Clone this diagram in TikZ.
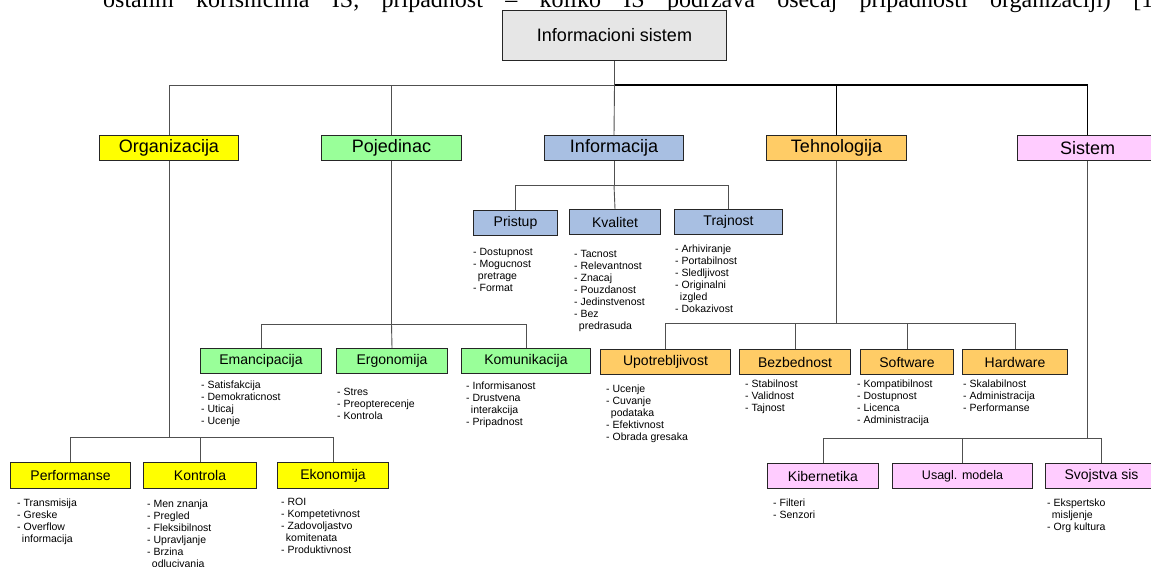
\documentclass[tikz,border=0pt]{standalone}
\usepackage{fontspec}
\setmainfont{Liberation Sans}
\newfontfamily\bodyserif{Liberation Serif}
\definecolor{rootgray}{HTML}{E6E6E6}
\definecolor{orgyellow}{HTML}{FFFF00}
\definecolor{pojgreen}{HTML}{99FF99}
\definecolor{infblue}{HTML}{A8BFE2}
\definecolor{tehorange}{HTML}{FFCC66}
\definecolor{sispink}{HTML}{FFCCFF}
\definecolor{linegray}{HTML}{505050}
\begin{document}
\begin{tikzpicture}[x=1pt,y=-1pt,
  box/.style={draw=black!85, line width=1pt, inner sep=0pt, anchor=north west,
    minimum height=25pt},
  topbox/.style={box, font=\fontsize{18}{20}\selectfont},
  subbox/.style={box, font=\fontsize{14}{16}\selectfont},
  items/.style={anchor=north west, align=left, inner sep=0pt,
    font=\fontsize{10.5}{12}\selectfont},
  conn/.style={draw=linegray, line width=0.9pt},
  mainconn/.style={draw=black, line width=1.6pt},
]
\useasboundingbox (0,0) rectangle (1151,566);
\clip (0,0) rectangle (1151,566);

% running text of the page above the figure
\node[anchor=base west, inner sep=0pt, font=\bodyserif\fontsize{24}{28}\selectfont]
  (bodyline) at (103,7) {\makebox[1050pt][s]{ostalim korisnicima IS, pripadnost – koliko IS podržava osećaj pripadnosti organizaciji) [1}};

% root
\node[box, fill=rootgray, minimum width=224pt, minimum height=50pt,
  font=\fontsize{18}{20}\selectfont] (root) at (502,10) {Informacioni sistem};

% first level
\node[topbox, fill=orgyellow, minimum width=139pt] (org) at (99,135) {Organizacija};
\node[topbox, fill=pojgreen,  minimum width=140pt] (poj) at (321,135) {Pojedinac};
\node[topbox, fill=infblue,   minimum width=139pt] (inf) at (544,135) {Informacija};
\node[topbox, fill=tehorange, minimum width=140pt] (teh) at (766,135) {Tehnologija};
\node[topbox, fill=sispink,   minimum width=140pt] (sis) at (1017,135) {Sistem};

\coordinate (topbus) at (614,85);
\draw[conn] (root.south) -- (root.south |- topbus) -| (org.north);
\draw[conn] (root.south |- topbus) -| (poj.north);
\draw[conn] (root.south |- topbus) -- (inf.north);
\draw[mainconn] (root.south |- topbus) -| (teh.north);
\draw[mainconn] (root.south |- topbus) -| (sis.north);

% Informacija
\node[subbox, fill=infblue, minimum width=84pt]  (pri) at (473,210) {Pristup};
\node[subbox, fill=infblue, minimum width=91pt]  (kva) at (569,209) {Kvalitet};
\node[subbox, fill=infblue, minimum width=108pt] (tra) at (674,209) {Trajnost};
\coordinate (infbus) at (614,185);
\draw[conn] (inf.south) -- (inf.south |- infbus) -| (pri.north);
\draw[conn] (inf.south |- infbus) -- (kva.north);
\draw[conn] (inf.south |- infbus) -| (tra.north);

\node[items] (priL) at (473,248) {- Dostupnost\\- Mogucnost\\\hspace*{0.45em}pretrage\\- Format};
\node[items] (kvaL) at (574,250) {- Tacnost\\- Relevantnost\\- Znacaj\\- Pouzdanost\\- Jedinstvenost\\- Bez\\\hspace*{0.45em}predrasuda};
\node[items] (traL) at (675,245) {- Arhiviranje\\- Portabilnost\\- Sledljivost\\- Originalni\\\hspace*{0.45em}izgled\\- Dokazivost};

% Pojedinac
\node[subbox, fill=pojgreen, minimum width=121pt] (ema) at (200,348) {Emancipacija};
\node[subbox, fill=pojgreen, minimum width=111pt] (erg) at (336,348) {Ergonomija};
\node[subbox, fill=pojgreen, minimum width=129pt] (kom) at (461,348) {Komunikacija};
\coordinate (pojbus) at (391,324);
\draw[conn] (poj.south) -- (poj.south |- pojbus) -| (ema.north);
\draw[conn] (poj.south |- pojbus) -- (erg.north);
\draw[conn] (poj.south |- pojbus) -| (kom.north);

\node[items] (emaL) at (201,381) {- Satisfakcija\\- Demokraticnost\\- Uticaj\\- Ucenje};
\node[items] (ergL) at (337,388) {- Stres\\- Preopterecenje\\- Kontrola};
\node[items] (komL) at (466,382) {- Informisanost\\- Drustvena\\\hspace*{0.45em}interakcija\\- Pripadnost};

% Tehnologija
\node[subbox, fill=tehorange, minimum width=130pt] (upo) at (600,349) {Upotrebljivost};
\node[subbox, fill=tehorange, minimum width=111pt] (bez) at (739,349) {Bezbednost};
\node[subbox, fill=tehorange, minimum width=93pt]  (sof) at (860,349) {Software};
\node[subbox, fill=tehorange, minimum width=105pt] (har) at (962,349) {Hardware};
\coordinate (tehbus) at (837,323);
\draw[conn] (teh.south) -- (teh.south |- tehbus) -| (upo.north);
\draw[conn] (teh.south |- tehbus) -| (bez.north);
\draw[conn] (teh.south |- tehbus) -| (sof.north);
\draw[conn] (teh.south |- tehbus) -| (har.north);

\node[items] (upoL) at (606,385) {- Ucenje\\- Cuvanje\\\hspace*{0.45em}podataka\\- Efektivnost\\- Obrada gresaka};
\node[items] (bezL) at (745,380) {- Stabilnost\\- Validnost\\- Tajnost};
\node[items] (sofL) at (857,380) {- Kompatibilnost\\- Dostupnost\\- Licenca\\- Administracija};
\node[items] (harL) at (963,380) {- Skalabilnost\\- Administracija\\- Performanse};

% Organizacija
\node[subbox, fill=orgyellow, minimum width=120pt, minimum height=26pt] (per) at (10,462) {Performanse};
\node[subbox, fill=orgyellow, minimum width=113pt, minimum height=26pt] (kon) at (143,462) {Kontrola};
\node[subbox, fill=orgyellow, minimum width=111pt, minimum height=26pt] (eko) at (277,462) {Ekonomija};
\coordinate (orgbus) at (168,437);
\draw[conn] (org.south) -- (org.south |- orgbus) -| (per.north);
\draw[conn] (org.south |- orgbus) -| (kon.north);
\draw[conn] (org.south |- orgbus) -| (eko.north);

\node[items] (perL) at (17,499) {- Transmisija\\- Greske\\- Overflow\\\hspace*{0.45em}informacija};
\node[items] (konL) at (147,500) {- Men znanja\\- Pregled\\- Fleksibilnost\\- Upravljanje\\- Brzina\\\hspace*{0.45em}odlucivanja};
\node[items] (ekoL) at (281,498) {- ROI\\- Kompetetivnost\\- Zadovoljastvo\\\hspace*{0.45em}komitenata\\- Produktivnost};

% Sistem
\node[subbox, fill=sispink, minimum width=111pt] (kib) at (767,463) {Kibernetika};
\node[subbox, fill=sispink, minimum width=140pt, font=\fontsize{12.5}{14}\selectfont] (usa) at (892,463) {Usagl. modela};
\node[subbox, fill=sispink, minimum width=112pt] (svo) at (1045,463) {Svojstva sis};
\coordinate (sisbus) at (1087,438);
\draw[conn] (sis.south) -- (sis.south |- sisbus) -| (kib.north);
\draw[conn] (sis.south |- sisbus) -| (usa.north);
\draw[conn] (sis.south |- sisbus) -| (svo.north);

\node[items] (kibL) at (773,499) {- Filteri\\- Senzori};
\node[items] (svoL) at (1047,499) {- Ekspertsko\\\hspace*{0.45em}misljenje\\- Org kultura};
\end{tikzpicture}
\end{document}
